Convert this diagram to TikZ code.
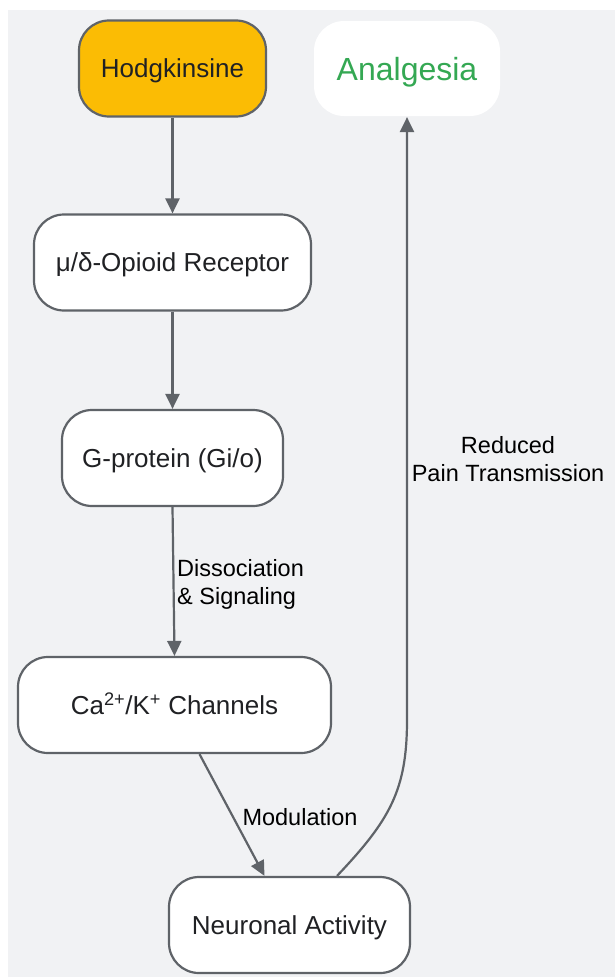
\documentclass[tikz,border=0pt]{standalone}
\usepackage{fontspec}
\setmainfont{Liberation Sans}
\usetikzlibrary{arrows.meta}
\definecolor{bggray}{HTML}{F1F2F4}
\definecolor{edgegray}{HTML}{5F6368}
\definecolor{drugyellow}{HTML}{FBBC04}
\definecolor{effectgreen}{HTML}{34A853}
\definecolor{textdark}{HTML}{202124}
\begin{document}
\begin{tikzpicture}[x=1pt, y=-1pt,
    box/.style={draw=edgegray, line width=2.2pt, fill=white, rounded corners=30pt,
        text=textdark, font=\fontsize{26}{30}\selectfont, inner sep=0pt, minimum height=96pt,
        text height=18.7pt, text depth=0pt},
    lbl/.style={text=black, font=\fontsize{23.5}{28}\selectfont, inner sep=0pt},
    ->/.style={draw=edgegray, line width=2.2pt, -{Triangle[length=15pt,width=14pt]}}]
    \useasboundingbox (0,0) rectangle (615,977);
    \fill[bggray] (8,10) rectangle (615,977);
    \node[box, fill=drugyellow, minimum width=187pt] (hk) at (172.5,68.5) {Hodgkinsine};
    \node[box, draw=none, minimum width=186pt, minimum height=95pt, text=effectgreen,
        font=\fontsize{32}{36}\selectfont, text height=23pt] (an) at (407,68.5) {Analgesia};
    \node[box, minimum width=277pt] (or) at (172.5,262.5) {μ/δ-Opioid Receptor};
    \node[box, minimum width=221pt] (gp) at (172.5,458) {G-protein (Gi/o)};
    \node[box, minimum width=313pt] (ch) at (174.5,705) {Ca\textsuperscript{2+}/K\textsuperscript{+} Channels};
    \node[box, minimum width=241pt] (na) at (289.5,925) {Neuronal Activity};
    \draw[->] (hk) -- (or);
    \draw[->] (or) -- (gp);
    \draw[->] (gp.south) -- (ch.north);
    \draw[->] ([xshift=25pt]ch.south) -- ([xshift=-25pt]na.north);
    \draw[->] ([xshift=47.5pt]na.north) .. controls (390,820) and (407,790) .. (407,720) -- (an);
    \node[lbl, anchor=west, align=left] (ds) at (177,584) {Dissociation\\\& Signaling};
    \node[lbl] (md) at (300,817) {Modulation};
    \node[lbl, align=center] (rp) at (508,459) {Reduced\\Pain Transmission};
\end{tikzpicture}
\end{document}
